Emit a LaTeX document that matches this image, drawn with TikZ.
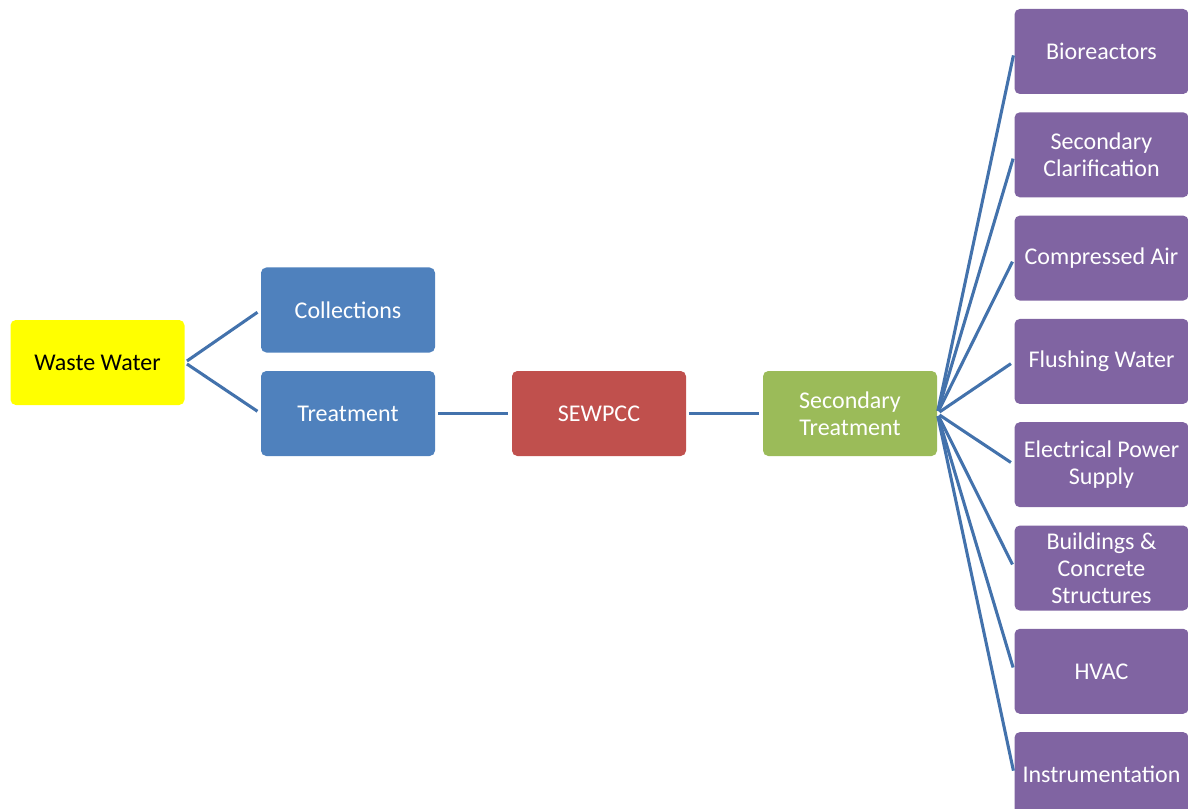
\documentclass[tikz,border=0pt]{standalone}
\usepackage{fontspec}
\setmainfont{Carlito}
\definecolor{wwyellow}{HTML}{FFFF00}
\definecolor{boxblue}{HTML}{4F81BD}
\definecolor{boxred}{HTML}{C0504D}
\definecolor{boxgreen}{HTML}{9BBB59}
\definecolor{boxpurple}{HTML}{8064A2}
\definecolor{linkblue}{HTML}{4372AC}
\begin{document}
\begin{tikzpicture}[x=0.75pt,y=-0.75pt,
  card/.style={rectangle, rounded corners=4pt, draw=none,
    minimum width=130.5pt, minimum height=63.75pt, inner sep=1pt,
    align=center, font=\fontsize{18}{20.3}\selectfont, text=white},
  link/.style={draw=linkblue, line width=2.3pt, shorten <=2pt, shorten >=3pt}]
  \useasboundingbox (0,0) rectangle (1188,809);

  % main chain
  \node[card, fill=wwyellow, text=black] (ww)  at (97.5,362.5) {Waste Water};
  \node[card, fill=boxblue]   (col) at (348,310)   {Collections};
  \node[card, fill=boxblue]   (trt) at (348,413.5) {Treatment};
  \node[card, fill=boxred]    (sew) at (599,413.5) {SEWPCC};
  \node[card, fill=boxgreen]  (sec) at (850,413.5) {Secondary\\Treatment};

  % secondary treatment components
  \foreach \name/\txt [count=\i from 0] in {
      bio/Bioreactors,
      clar/{Secondary\\Clarification},
      air/Compressed Air,
      flush/Flushing Water,
      elec/{Electrical Power\\Supply},
      bldg/{Buildings \&\\Concrete\\Structures},
      hvac/HVAC,
      inst/Instrumentation} {
    \node[card, fill=boxpurple] (\name) at (1101.5, 51.5+103.3*\i) {\txt};
  }

  % connectors
  \draw[link] (ww.east) -- (col.west);
  \draw[link] (ww.east) -- (trt.west);
  \draw[link] (trt.east) -- (sew.west);
  \draw[link] (sew.east) -- (sec.west);
  \foreach \name in {bio,clar,air,flush,elec,bldg,hvac,inst}
    \draw[link] (sec.east) -- (\name.west);
\end{tikzpicture}
\end{document}
